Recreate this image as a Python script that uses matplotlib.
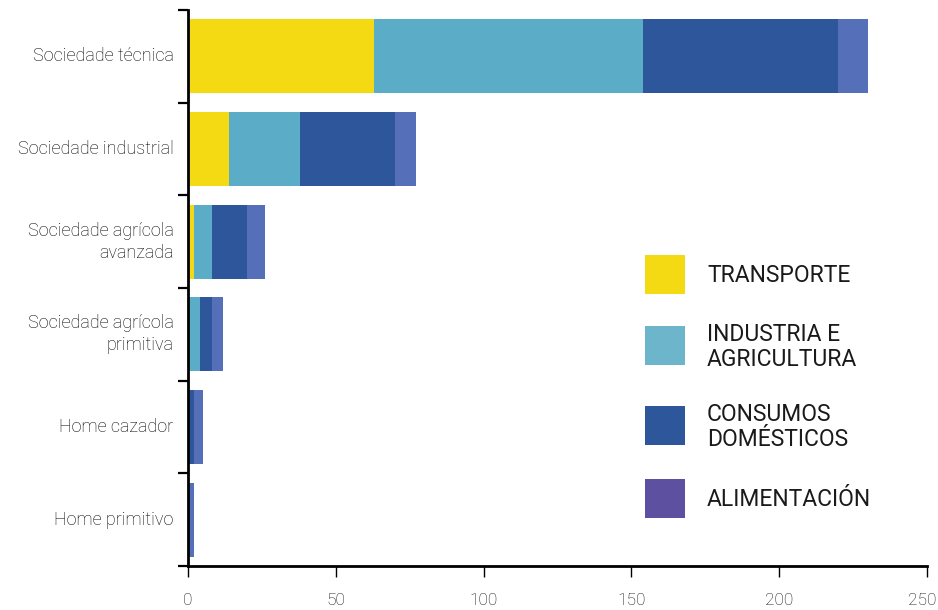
import matplotlib
matplotlib.use("Agg")
import matplotlib.pyplot as plt
from matplotlib.patches import Rectangle
import matplotlib.transforms as mtransforms
import numpy as np

plt.rcParams['font.family'] = ['Roboto', 'DejaVu Sans']

# Energy consumption per person by stage of development
categories = ["Home primitivo", "Home cazador", "Sociedade agrícola\nprimitiva",
              "Sociedade agrícola\navanzada", "Sociedade industrial", "Sociedade técnica"]
transporte = [0, 0, 0, 2, 14, 63]
industria = [0, 0, 4, 6, 24, 91]
consumos = [0, 2, 4, 12, 32, 66]
alimentacion = [2, 3, 4, 6, 7, 10]

series_labels = ["TRANSPORTE", "INDUSTRIA E\nAGRICULTURA", "CONSUMOS\nDOMÉSTICOS", "ALIMENTACIÓN"]
bar_colors = ["#F4DA12", "#5BACC6", "#2E579B", "#5570B9"]
legend_colors = ["#F4DA12", "#6CB5CA", "#2E579B", "#5E50A0"]
xticks = [0, 50, 100, 150, 200, 250]

W, H = 938, 610
fig = plt.figure(figsize=(W / 100, H / 100), dpi=100)
ax = fig.add_axes([188 / W, 44 / H, 739 / W, 556 / H])

y = np.arange(len(categories))
left = np.zeros(len(categories))
for vals, col in zip([transporte, industria, consumos, alimentacion], bar_colors):
    ax.barh(y, vals, left=left, height=0.8, color=col, linewidth=0)
    left += np.array(vals)

ax.set_xlim(0, 250)
ax.set_ylim(-0.5, len(categories) - 0.5)
ax.set_xticks(xticks)
ax.set_xticklabels([])
# value labels under the axis; the last one is nudged to stay on the canvas
xtrans = ax.get_xaxis_transform()
for t in xticks:
    dx = -5 if t == xticks[-1] else 0
    tr = xtrans + mtransforms.ScaledTranslation(dx / 100, -27 / 100, fig.dpi_scale_trans)
    ax.text(t, 0, str(t), transform=tr, ha='center', va='top', fontsize=12.5,
            fontweight='light', color='#111111', clip_on=False)

ax.set_yticks(y)
ax.set_yticklabels(categories, fontsize=13, fontweight='light', color='#000000',
                   linespacing=1.3)
for lbl in ax.get_yticklabels():
    lbl.set_verticalalignment('center')
ax.set_yticks(np.arange(-0.5, len(categories)), minor=True)
ax.tick_params(axis='y', which='major', length=0, pad=10.5)
ax.tick_params(axis='y', which='minor', length=7, width=1.6, color='black')
ax.tick_params(axis='x', which='major', length=8, width=1.0)
for s in ['top', 'right']:
    ax.spines[s].set_visible(False)
ax.spines['left'].set_linewidth(2)
ax.spines['bottom'].set_linewidth(2)

# Legend drawn as squares with labels in figure pixel space
tops = [255, 326, 406, 479]
for top, col, lab in zip(tops, legend_colors, series_labels):
    fig.patches.append(Rectangle((645 / W, 1 - (top + 39) / H), 40 / W, 39 / H,
                                 transform=fig.transFigure, color=col, linewidth=0))
    fig.text(707 / W, 1 - (top + 21) / H, lab, fontsize=16.5, color='#1a1a1a',
             va='center', ha='left', linespacing=1.15)

fig.savefig("out.png", dpi=100)
